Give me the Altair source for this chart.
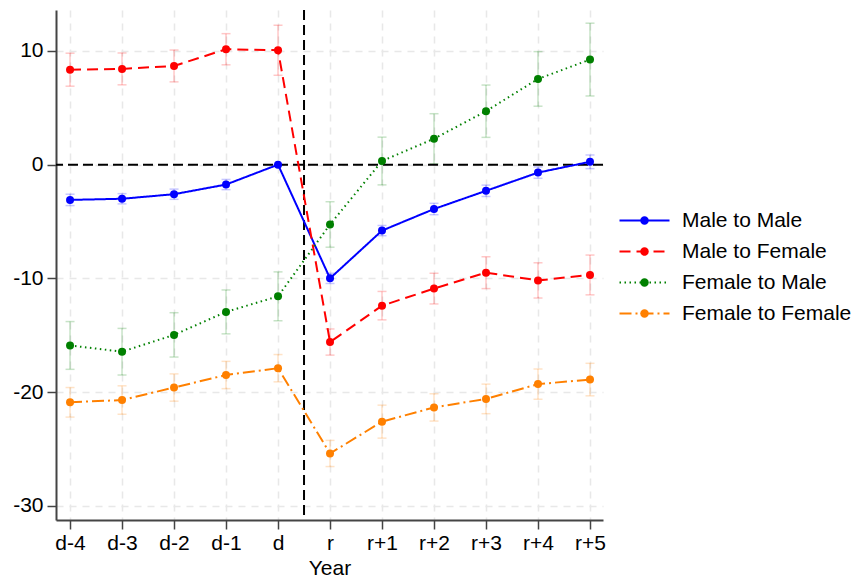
import altair as alt
import pandas as pd

# ---- data ----
years = ["d-4", "d-3", "d-2", "d-1", "d", "r", "r+1", "r+2", "r+3", "r+4", "r+5"]
series_names = ["Male to Male", "Male to Female", "Female to Male", "Female to Female"]

mm_est = [-3.1, -3.0, -2.6, -1.75, 0.0, -10.0, -5.8, -3.9, -2.3, -0.7, 0.25]
mm_ci = [0.5, 0.45, 0.45, 0.45, 0.0, 0.45, 0.45, 0.5, 0.5, 0.5, 0.6]

mf_est = [8.35, 8.42, 8.68, 10.15, 10.06, -15.6, -12.4, -10.9, -9.5, -10.18, -9.7]
mf_ci = [1.45, 1.4, 1.4, 1.37, 2.2, 1.15, 1.25, 1.35, 1.4, 1.55, 1.75]

fm_est = [-15.9, -16.45, -14.97, -12.95, -11.58, -5.26, 0.32, 2.28, 4.7, 7.54, 9.24]
fm_ci = [2.1, 2.05, 1.95, 1.93, 2.15, 2.0, 2.1, 2.2, 2.3, 2.4, 3.2]

ff_est = [-20.9, -20.7, -19.6, -18.5, -17.9, -25.4, -22.6, -21.35, -20.6, -19.3, -18.9]
ff_ci = [1.3, 1.25, 1.2, 1.2, 1.2, 1.15, 1.45, 1.2, 1.3, 1.33, 1.43]

colors = ["#0000ff", "#ff0000", "#008000", "#ff8000"]
dashes = [[1, 0], [11, 6], [1.5, 3.5], [12, 4, 2, 4]]

rows = []
for name, est, ci in zip(series_names, [mm_est, mf_est, fm_est, ff_est], [mm_ci, mf_ci, fm_ci, ff_ci]):
    for i, (e, c) in enumerate(zip(est, ci)):
        rows.append({"idx": i, "year": years[i], "series": name, "est": e, "lo": e - c, "hi": e + c})
df = pd.DataFrame(rows)

label_expr = "[" + ",".join("'" + y + "'" for y in years) + "][datum.value]"

FONT = "Liberation Sans"
FS = 21
xdom = [-0.27, 10.25]
ydom = [-31.25, 13.6]

xscale = alt.Scale(domain=xdom, nice=False, zero=False)
yscale = alt.Scale(domain=ydom, nice=False, zero=False)
cscale = alt.Scale(domain=series_names, range=colors)
dscale = alt.Scale(domain=series_names, range=dashes)

x_axis = alt.Axis(values=list(range(len(years))), labelExpr=label_expr, title="Year",
                  grid=True, gridDash=[7, 6], gridColor="#e8e8e8", gridWidth=1.5,
                  labelFontSize=FS, titleFontSize=FS, labelFont=FONT, titleFont=FONT,
                  labelColor="black", titleColor="black", titleFontWeight="normal",
                  domainColor="#444444", domainWidth=2, tickColor="#444444", tickWidth=1.5,
                  tickSize=9, labelPadding=3, titlePadding=4)
y_axis = alt.Axis(values=[-30, -20, -10, 0, 10], title=None,
                  labelExpr="datum.value < 0 ? '-' + abs(datum.value) : '' + datum.value",
                  grid=True, gridDash=[7, 6], gridColor="#e8e8e8", gridWidth=1.5,
                  labelFontSize=FS, labelFont=FONT, labelColor="black",
                  domainColor="#444444", domainWidth=2, tickColor="#444444", tickWidth=1.5,
                  tickSize=9, labelPadding=4)

# legend symbol: 50px line with a dot in the middle (size 100 -> 5px per unit)
LINE_SYM = "M-5,0H5"
DOT_SYM = "M-0.85,0A0.85,0.85,0,1,0,0.85,0A0.85,0.85,0,1,0,-0.85,0Z"
leg_common = dict(
    title=None, orient="none", legendX=578, legendY=200,
    symbolSize=100, symbolOpacity=1,
    labelFontSize=FS, labelFont=FONT, labelColor="black", labelLimit=400,
    rowPadding=9, symbolOffset=0,
)
legend_lines = alt.Legend(symbolType=LINE_SYM, symbolStrokeWidth=2, labelOffset=27, **leg_common)
legend_dots = alt.Legend(symbolType=DOT_SYM, symbolStrokeWidth=2, labelOffset=27, labelOpacity=0, **leg_common)

color_noleg = alt.Color("series:N", scale=cscale, legend=None)

base = alt.Chart(df)

axes_layer = base.mark_point(opacity=0).encode(
    x=alt.X("idx:Q", scale=xscale, axis=x_axis),
    y=alt.Y("est:Q", scale=yscale, axis=y_axis),
)

hline = alt.Chart(pd.DataFrame({"y": [0]})).mark_rule(
    color="black", strokeDash=[10, 5], strokeWidth=2
).encode(y=alt.Y("y:Q", scale=yscale))
vline = alt.Chart(pd.DataFrame({"x": [4.5]})).mark_rule(
    color="black", strokeDash=[10, 5], strokeWidth=2
).encode(x=alt.X("x:Q", scale=xscale))

err = base.mark_rule(strokeWidth=1.5, opacity=0.22).encode(
    x=alt.X("idx:Q", scale=xscale),
    y=alt.Y("lo:Q", scale=yscale),
    y2="hi:Q",
    color=color_noleg,
)
cap_lo = base.mark_tick(orient="horizontal", size=9, thickness=1.5, opacity=0.22).encode(
    x=alt.X("idx:Q", scale=xscale),
    y=alt.Y("lo:Q", scale=yscale),
    color=color_noleg,
)
cap_hi = base.mark_tick(orient="horizontal", size=9, thickness=1.5, opacity=0.22).encode(
    x=alt.X("idx:Q", scale=xscale),
    y=alt.Y("hi:Q", scale=yscale),
    color=color_noleg,
)

lines = base.mark_line(strokeWidth=2).encode(
    x=alt.X("idx:Q", scale=xscale),
    y=alt.Y("est:Q", scale=yscale),
    color=alt.Color("series:N", scale=cscale, legend=legend_lines, sort=series_names),
    strokeDash=alt.StrokeDash("series:N", scale=dscale, legend=legend_lines, sort=series_names),
    detail="series:N",
)
points = base.mark_circle(size=64, opacity=1).encode(
    x=alt.X("idx:Q", scale=xscale),
    y=alt.Y("est:Q", scale=yscale),
    color=color_noleg,
)
legend_pts = base.mark_point(shape=DOT_SYM, filled=True, opacity=0, size=100).encode(
    x=alt.X("idx:Q", scale=xscale),
    y=alt.Y("est:Q", scale=yscale),
    color=alt.Color("series:N", scale=cscale, legend=legend_dots, sort=series_names),
)

chart = alt.layer(axes_layer, err, cap_lo, cap_hi, hline, vline, lines, points, legend_pts).resolve_legend(
    color="independent", strokeDash="independent"
).properties(
    width=547, height=510,
    padding={"left": 4, "top": 1, "right": 0, "bottom": 0},
).configure_view(stroke=None).configure_axis(labelFont=FONT)

chart.save("out.html", embed_options={"renderer": "svg", "actions": False})
